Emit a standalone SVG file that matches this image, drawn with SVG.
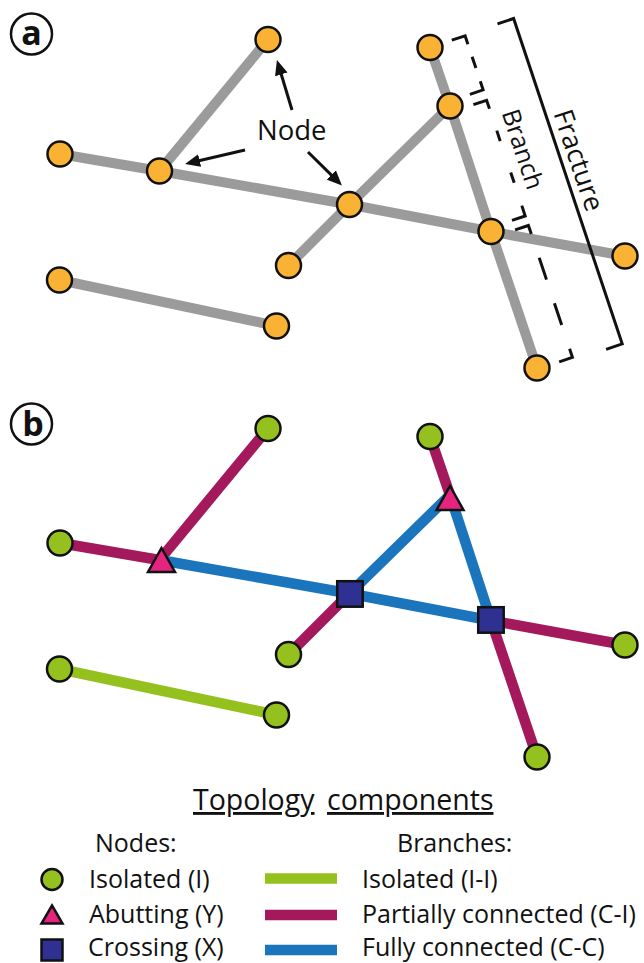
<svg xmlns="http://www.w3.org/2000/svg" width="644" height="963" viewBox="0 0 644 963">
  <defs>
    <style>
      text { font-family: "Open Sans", "Noto Sans", "DejaVu Sans", sans-serif; fill: #111; }
      .lbl { font-size: 25px; }
      .panel { font-size: 34px; font-weight: bold; text-anchor: middle; }
      .ring { fill: #fff; stroke: #111; stroke-width: 2.5; }
      .gray { stroke: #9b9b9b; stroke-width: 10; fill: none; }
      .ii { stroke: #95c11f; stroke-width: 10.5; fill: none; }
      .ci { stroke: #a3195b; stroke-width: 10.5; fill: none; }
      .cc { stroke: #1b75bc; stroke-width: 10.5; fill: none; }
      .orange { fill: #f9b233; stroke: #111; stroke-width: 2.5; }
      .iso { fill: #95c11f; stroke: #111; stroke-width: 2.5; }
      .abut { fill: #e5247f; stroke: #111; stroke-width: 2.5; stroke-linejoin: miter; }
      .cross { fill: #2e3192; stroke: #111; stroke-width: 2.5; }
      .ptr { stroke: #111; stroke-width: 3; fill: none; marker-end: url(#head); }
      .dash { stroke: #111; stroke-width: 3; fill: none; }
      .brk { stroke: #111; stroke-width: 3; fill: none; }
    </style>
    <marker id="head" markerUnits="userSpaceOnUse" viewBox="0 -7 16 14" markerWidth="16" markerHeight="14" refX="2" refY="0" orient="auto">
      <path d="M0,-6.5 L15,0 L0,6.5 z" fill="#111"/>
    </marker>
  </defs>

  <!-- ===== Panel a: fracture network ===== -->
  <g id="label-a">
    <circle class="ring" cx="31.5" cy="34" r="20.5"/>
    <text class="panel" x="31.5" y="45">a</text>
  </g>

  <g id="traces-a">
    <polyline class="gray" points="60,154 159.5,171 349.5,204.5 491,231.5 625,256"/>
    <line class="gray" x1="268" y1="39.5" x2="159.5" y2="171"/>
    <polyline class="gray" points="288.5,265.5 349.5,204.5 450,106"/>
    <polyline class="gray" points="430,47.5 450,106 491,231.5 537,368"/>
    <line class="gray" x1="59.5" y1="280" x2="276.5" y2="326"/>
  </g>

  <g id="pointers">
    <line class="ptr" x1="292" y1="110" x2="280.7" y2="72.5"/>
    <line class="ptr" x1="245" y1="150" x2="197.7" y2="161"/>
    <line class="ptr" x1="308" y1="152" x2="332.7" y2="176.4"/>
    <text class="lbl" x="257" y="140" style="font-size:27.5px">Node</text>
  </g>

  <g id="a-node-T"><circle class="orange" cx="268" cy="39.5" r="12.5"/></g>
  <g id="a-node-L"><circle class="orange" cx="60" cy="154" r="12.5"/></g>
  <g id="a-node-Y1"><circle class="orange" cx="159.5" cy="171" r="12.5"/></g>
  <g id="a-node-X1"><circle class="orange" cx="349.5" cy="204.5" r="12.5"/></g>
  <g id="a-node-LL"><circle class="orange" cx="288.5" cy="265.5" r="12.5"/></g>
  <g id="a-node-Y2"><circle class="orange" cx="450" cy="106" r="12.5"/></g>
  <g id="a-node-TR"><circle class="orange" cx="430" cy="47.5" r="12.5"/></g>
  <g id="a-node-X2"><circle class="orange" cx="491" cy="231.5" r="12.5"/></g>
  <g id="a-node-R"><circle class="orange" cx="625" cy="256" r="12.5"/></g>
  <g id="a-node-B"><circle class="orange" cx="537" cy="368" r="12.5"/></g>
  <g id="a-node-I1"><circle class="orange" cx="59.5" cy="280" r="12.5"/></g>
  <g id="a-node-I2"><circle class="orange" cx="276.5" cy="326" r="12.5"/></g>

  <!-- dashed brackets, one per branch of the long trace -->
  <g id="branch-brackets">
    <path class="dash" d="M451.8,40.2 L465.1,35.8 L467.9,44.3 M472.1,56.7 L475.9,68 M480.3,81.3 L483.1,89.9 L469.9,94.3"/>
    <path class="dash" d="M473.4,104.7 L486.6,100.3 L489.5,108.8 M496.8,130.6 L500.2,141.1 M510.7,172.4 L514.2,182.8 M521.8,205.6 L525.2,216 L512,220.4"/>
    <path class="dash" d="M515.1,229.9 L528.4,225.5 L531.3,234 M539.2,257.7 L546.5,279.6 M554.4,303.3 L561.7,325.1 M569.6,348.8 L572.4,357.3 L559.2,361.8"/>
    <text class="lbl" transform="translate(514.5,152.1) rotate(71.55)" text-anchor="middle">Branch</text>
  </g>

  <!-- solid bracket spanning the whole trace -->
  <g id="fracture-bracket">
    <polyline class="brk" points="497.5,23.9 513.6,18.5 622.2,343.9 606.1,349.3"/>
    <text class="lbl" transform="translate(569.8,163.2) rotate(71.55)" text-anchor="middle" style="font-size:27px">Fracture</text>
  </g>

  <!-- ===== Panel b: topology classification ===== -->
  <g id="label-b">
    <circle class="ring" cx="31.5" cy="424" r="20.5"/>
    <text class="panel" x="33" y="436">b</text>
  </g>

  <g id="branches-b">
    <line class="ci" x1="60" y1="543" x2="159.5" y2="560"/>
    <line class="ci" x1="268" y1="428.5" x2="159.5" y2="560"/>
    <polyline class="cc" points="159.5,560 349.5,593.5 491,620.5"/>
    <line class="ci" x1="491" y1="620.5" x2="625" y2="645"/>
    <line class="ci" x1="288.5" y1="654.5" x2="349.5" y2="593.5"/>
    <line class="cc" x1="349.5" y1="593.5" x2="450" y2="495"/>
    <line class="ci" x1="430" y1="436.5" x2="450" y2="495"/>
    <line class="cc" x1="450" y1="495" x2="491" y2="620.5"/>
    <line class="ci" x1="491" y1="620.5" x2="537" y2="757"/>
    <line class="ii" x1="59.5" y1="669" x2="276.5" y2="715"/>
  </g>

  <g id="b-node-T"><circle class="iso" cx="268" cy="428.5" r="12.5"/></g>
  <g id="b-node-L"><circle class="iso" cx="60" cy="543" r="12.5"/></g>
  <g id="b-node-Y1"><polygon class="abut" points="161.5,548 175,572 148,572"/></g>
  <g id="b-node-X1"><rect class="cross" x="337.2" y="581.2" width="25.5" height="25.5"/></g>
  <g id="b-node-LL"><circle class="iso" cx="288.5" cy="654.5" r="12.5"/></g>
  <g id="b-node-Y2"><polygon class="abut" points="450,486 463.5,510 436.5,510"/></g>
  <g id="b-node-TR"><circle class="iso" cx="430" cy="436.5" r="12.5"/></g>
  <g id="b-node-X2"><rect class="cross" x="478.2" y="607.2" width="25.5" height="25.5"/></g>
  <g id="b-node-R"><circle class="iso" cx="625" cy="645" r="12.5"/></g>
  <g id="b-node-B"><circle class="iso" cx="537" cy="757" r="12.5"/></g>
  <g id="b-node-I1"><circle class="iso" cx="59.5" cy="669" r="12.5"/></g>
  <g id="b-node-I2"><circle class="iso" cx="276.5" cy="715" r="12.5"/></g>

  <!-- ===== Legend ===== -->
  <g id="legend">
    <text x="193" y="810" style="font-size:28.5px; text-decoration:underline">Topology</text>
    <text x="327" y="810" style="font-size:28.5px; text-decoration:underline">components</text>

    <text class="lbl" x="95" y="852">Nodes:</text>
    <circle class="iso" cx="52" cy="879.5" r="10.5"/>
    <text class="lbl" x="89" y="888">Isolated (I)</text>
    <polygon class="abut" points="52,905.5 62.5,923.5 41.5,923.5"/>
    <text class="lbl" x="89" y="923">Abutting (Y)</text>
    <rect class="cross" x="41.5" y="939.5" width="21" height="21"/>
    <text class="lbl" x="88" y="956">Crossing (X)</text>

    <text class="lbl" x="397" y="852">Branches:</text>
    <line class="ii" x1="265" y1="878.5" x2="337" y2="878.5"/>
    <text class="lbl" x="362" y="888">Isolated (I-I)</text>
    <line class="ci" x1="265" y1="915" x2="337" y2="915"/>
    <text class="lbl" x="362" y="923">Partially connected (C-I)</text>
    <line class="cc" x1="265" y1="950" x2="337" y2="950"/>
    <text class="lbl" x="362" y="956">Fully connected (C-C)</text>
  </g>
</svg>
